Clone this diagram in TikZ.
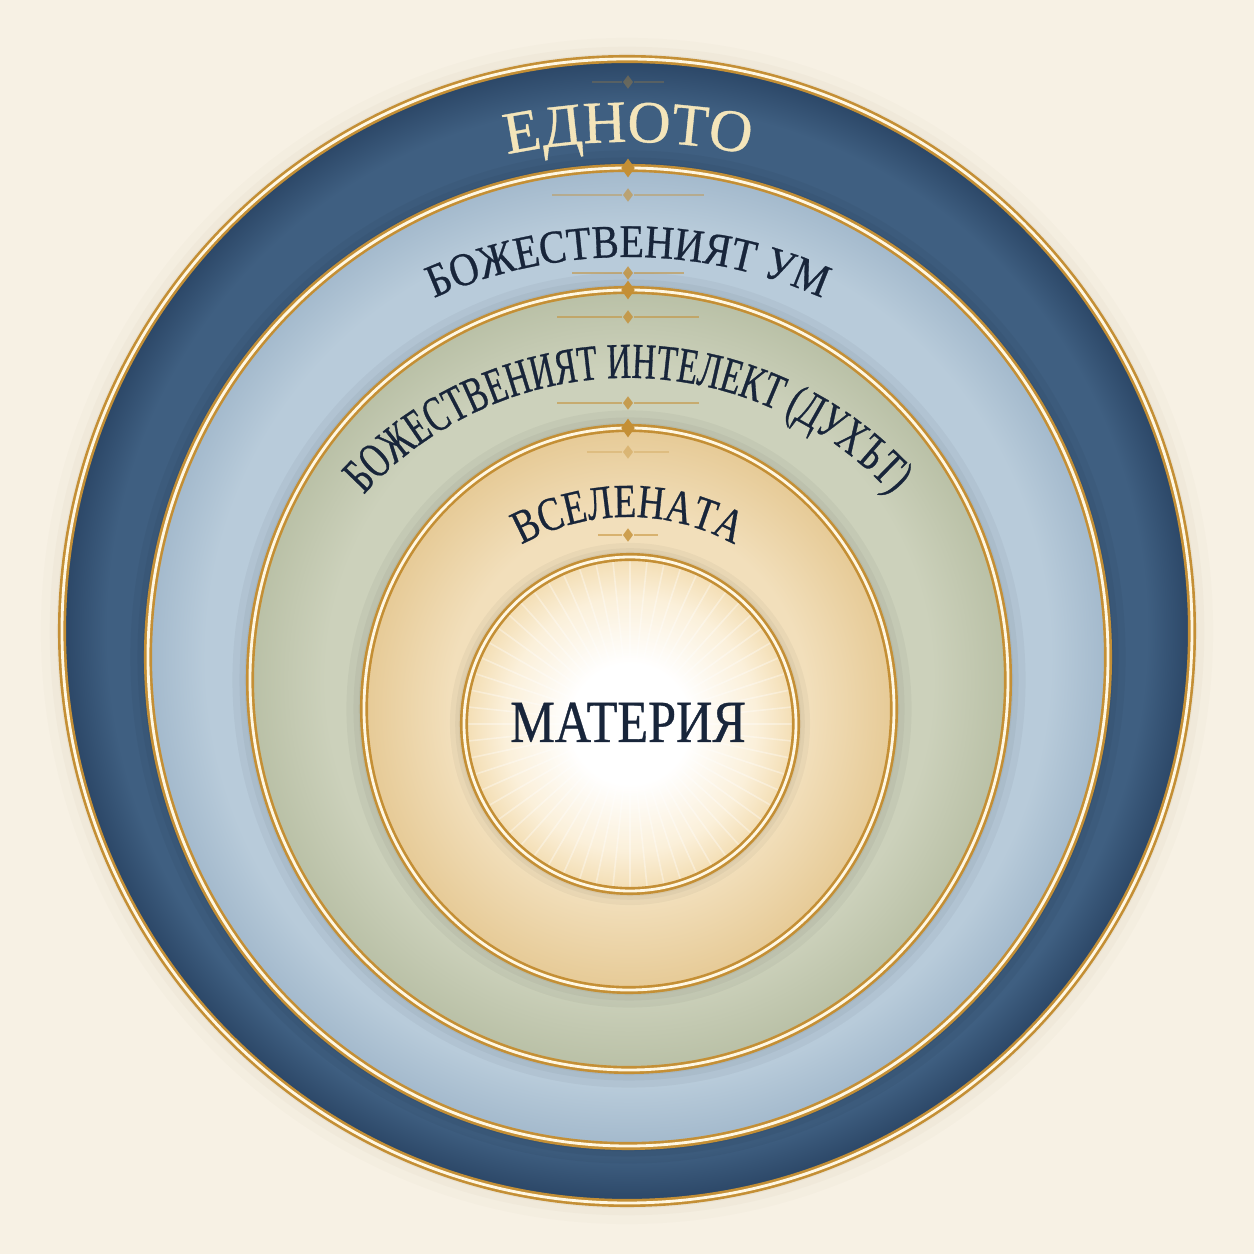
\documentclass[tikz,border=0pt]{standalone}
\usepackage{fontspec}
\setmainfont{Liberation Serif}
\newfontfamily\ednofont[FakeBold=0.6]{Liberation Serif}
\newfontfamily\umfont[FakeStretch=0.86,FakeBold=0.6]{Liberation Serif}
\newfontfamily\duhfont[FakeStretch=0.66,FakeBold=0.6]{Liberation Serif}
\newfontfamily\vselfont[FakeStretch=0.78,FakeBold=0.6]{Liberation Serif}
\newfontfamily\matfont[FakeStretch=0.84,FakeBold=0.6]{Liberation Serif}
\usetikzlibrary{positioning,decorations.text,shapes.geometric}

\definecolor{paper}{HTML}{F7F1E4}
\definecolor{ink}{HTML}{18253A}
\definecolor{gold}{HTML}{C48F35}
\definecolor{goldlight}{HTML}{FFF7E2}
\definecolor{glyph}{HTML}{F4E5BA}
\definecolor{umber}{HTML}{8A6A3A}
\definecolor{navyM}{HTML}{3F5F81}
\definecolor{navyD}{HTML}{2B4666}
\definecolor{skyM}{HTML}{B8CBDA}
\definecolor{skyD}{HTML}{A3B9CC}
\definecolor{sageM}{HTML}{CCD1BB}
\definecolor{sageD}{HTML}{B9C0A6}
\definecolor{sandM}{HTML}{F2DFBB}
\definecolor{sandD}{HTML}{E6CA96}
\definecolor{coreM}{HTML}{FBF0DA}
\definecolor{coreD}{HTML}{F3DDB2}

\pgfdeclareradialshading{navyband}{\pgfpoint{0bp}{0bp}}{color(0bp)=(navyM); color(23bp)=(navyM); color(25bp)=(navyD); color(50bp)=(navyD)}
\pgfdeclareradialshading{skyband}{\pgfpoint{0bp}{0bp}}{color(0bp)=(skyM); color(22bp)=(skyM); color(25bp)=(skyD); color(50bp)=(skyD)}
\pgfdeclareradialshading{sageband}{\pgfpoint{0bp}{0bp}}{color(0bp)=(sageM); color(20bp)=(sageM); color(25bp)=(sageD); color(50bp)=(sageD)}
\pgfdeclareradialshading{sandband}{\pgfpoint{0bp}{0bp}}{color(0bp)=(sandM); color(17bp)=(sandM); color(25bp)=(sandD); color(50bp)=(sandD)}
\pgfdeclareradialshading{coreglow}{\pgfpoint{0bp}{0bp}}{color(0bp)=(white); color(9bp)=(white); color(19bp)=(coreM); color(25bp)=(coreD); color(50bp)=(coreD)}

% text on an arc round the common centre: radius, half angle, format, text
\newcommand\ringtext[4]{%
  \path[decorate, decoration={text along path, text align=center, text={|#3|#4}}]
    (628,519) ++(90+#2:#1) arc[start angle=90+#2, end angle=90-#2, radius=#1];}

\begin{document}
\begin{tikzpicture}[
        x=0.01cm, y=0.01cm,
        ring/.style={draw=gold, line width=2.3pt},
        ringcore/.style={draw=goldlight, line width=0.8pt},
        cast/.style={draw=black, opacity=0.035},
        gem/.style={diamond, fill=gold, inner sep=0pt, minimum width=3pt, minimum height=4pt},
        ringgem/.style={gem, minimum width=4pt, minimum height=5.5pt},
        gemline/.style={draw=gold, line width=0.35pt}
    ]
    \useasboundingbox (0,0) rectangle (1254,1254);
    \fill[paper] (0,0) rectangle (1254,1254);
    \coordinate (one) at (627,623);
    \coordinate (two) at (628,597);
    \coordinate (three) at (629,574);
    \coordinate (four) at (629,545);
    \coordinate (core) at (630,530);
    % soft halo on the paper
    \foreach \w/\o in {12/0.02, 7/0.03, 3/0.05}
        \draw[umber, opacity=\o, line width=\w pt] (one) ellipse [x radius=565, y radius=572];
    % the five discs
    \shade[shading=navyband] (one) ellipse [x radius=565, y radius=572];
    \draw[ring] (one) ellipse [x radius=565, y radius=572];
    \draw[ringcore] (one) ellipse [x radius=565, y radius=572];
    \foreach \w in {10,6,3}
        \draw[cast, line width=\w pt] (two) ellipse [x radius=480, y radius=489];
    \shade[shading=skyband] (two) ellipse [x radius=480, y radius=489];
    \draw[ring] (two) ellipse [x radius=480, y radius=489];
    \draw[ringcore] (two) ellipse [x radius=480, y radius=489];
    \foreach \w in {10,6,3}
        \draw[cast, line width=\w pt] (three) ellipse [x radius=379, y radius=390];
    \shade[shading=sageband] (three) ellipse [x radius=379, y radius=390];
    \draw[ring] (three) ellipse [x radius=379, y radius=390];
    \draw[ringcore] (three) ellipse [x radius=379, y radius=390];
    \foreach \w in {10,6,3}
        \draw[cast, line width=\w pt] (four) ellipse [x radius=265, y radius=281];
    \shade[shading=sandband] (four) ellipse [x radius=265, y radius=281];
    \draw[ring] (four) ellipse [x radius=265, y radius=281];
    \draw[ringcore] (four) ellipse [x radius=265, y radius=281];
    \foreach \w in {8,5,3}
        \draw[cast, line width=\w pt] (core) ellipse [x radius=166, y radius=167];
    \shade[shading=coreglow] (core) ellipse [x radius=166, y radius=167];
    \begin{scope}
        \clip (core) ellipse [x radius=166, y radius=167];
        \foreach \a in {0,6,...,354}
            \draw[white, line width=0.45pt, opacity=0.35] (core) -- ++(\a:175);
    \end{scope}
    \draw[ring] (core) ellipse [x radius=166, y radius=167];
    \draw[ringcore] (core) ellipse [x radius=166, y radius=167];
    % small gold ornaments on the axis
    \foreach \y/\w/\o [count=\i] in {1172/30/0.35, 1059/70/0.6, 981/50/0.8, 937/65/0.8, 851/65/0.8, 802/35/0.4, 719/24/0.8} {
        \node[gem, opacity=\o] (gem\i) at (628,\y) {};
        \draw[gemline, opacity=0.7*\o] (gem\i.west) -- ++(-\w,0);
        \draw[gemline, opacity=0.7*\o] (gem\i.east) -- ++(\w,0);
    }
    \foreach \y [count=\i] in {1086,964,826}
        \node[ringgem] (ringgem\i) at (628,\y) {};
    % labels
    \ringtext{593}{22}{\ednofont\fontsize{17}{17}\selectfont\color{glyph}}{ЕДНОТО}
    \ringtext{478}{35}{\umfont\fontsize{13.3}{14}\selectfont\color{ink}}{БОЖЕСТВЕНИЯТ УМ}
    \ringtext{357}{70}{\duhfont\fontsize{14.3}{15}\selectfont\color{ink}}{БОЖЕСТВЕНИЯТ ИНТЕЛЕКТ (ДУХЪТ)}
    \ringtext{218}{45}{\vselfont\fontsize{13.5}{14}\selectfont\color{ink}}{ВСЕЛЕНАТА}
    \node[font=\matfont\fontsize{17}{17}\selectfont, text=ink, anchor=base] (materia) at (628,512) {МАТЕРИЯ};
\end{tikzpicture}
\end{document}
